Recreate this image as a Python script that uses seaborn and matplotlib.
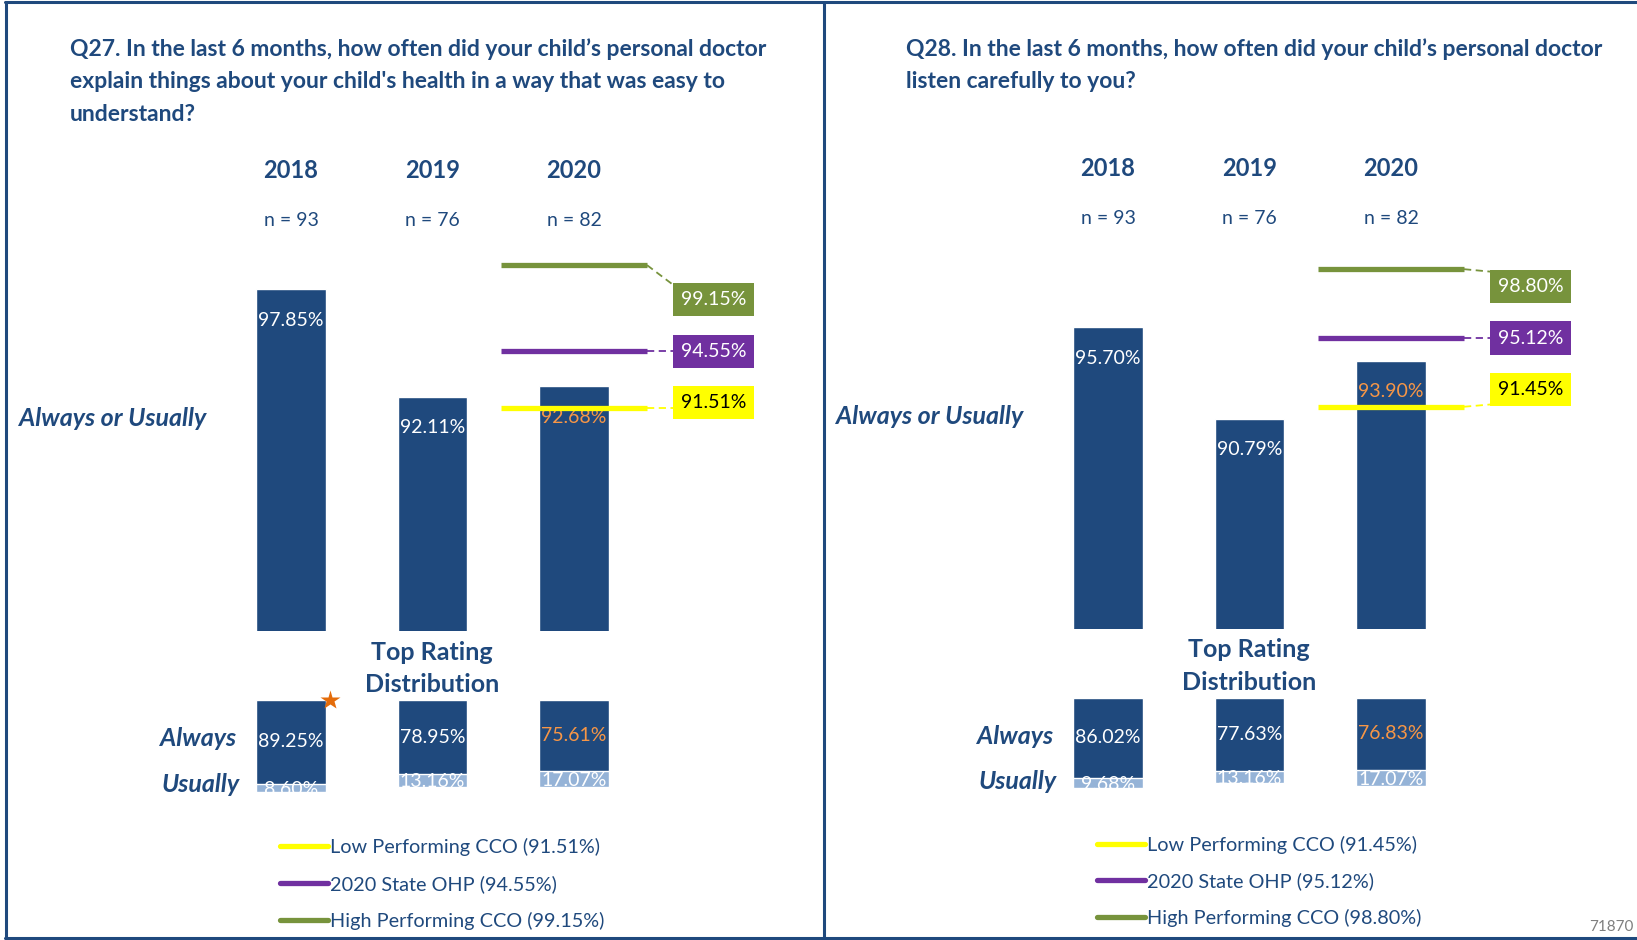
import matplotlib
matplotlib.use("Agg")
import matplotlib.pyplot as plt
import matplotlib.transforms as mtransforms
from matplotlib.lines import Line2D
from matplotlib.patches import Rectangle
import seaborn as sns

sns.set_style("white")
plt.rcParams['font.family'] = ['Lato', 'DejaVu Sans']

# data
years = ['2018', '2019', '2020']
n_sizes = [93, 76, 82]

q27_title = ["Q27. In the last 6 months, how often did your child\u2019s personal doctor",
             "explain things about your child's health in a way that was easy to",
             "understand?"]
q27_always_usually = [97.85, 92.11, 92.68]
q27_always = [89.25, 78.95, 75.61]
q27_usually = [8.60, 13.16, 17.07]
q27_low, q27_state, q27_high = 91.51, 94.55, 99.15

q28_title = ["Q28. In the last 6 months, how often did your child\u2019s personal doctor",
             "listen carefully to you?"]
q28_always_usually = [95.70, 90.79, 93.90]
q28_always = [86.02, 77.63, 76.83]
q28_usually = [9.68, 13.16, 17.07]
q28_low, q28_state, q28_high = 91.45, 95.12, 98.80

DARK = '#1F497D'
LIGHT = '#95B3D7'
ORANGE = '#F79646'
YELLOW = '#FFFF00'
PURPLE = '#7030A0'
GREEN = '#77933C'
label_colors = ['white', 'white', ORANGE]

W, H = 1637, 940
fig = plt.figure(figsize=(W / 100, H / 100), dpi=100)


def px_axes(left, top, right, bottom):
    return fig.add_axes([left / W, 1 - bottom / H, (right - left) / W, (bottom - top) / H])


def fx(x):
    return x / W


def fy(y):
    return 1 - y / H


def draw_panel(dx, dy, title_x, title, au, al, us, low, state, high, star=False):
    unit = 141.5
    x0 = 291 + dx

    # title
    for k, line in enumerate(title):
        fig.text(fx(title_x), fy(49 + 32.8 * k), line, ha='left', va='center',
                 fontsize=16.5, fontweight='bold', color=DARK)

    # main bars
    ax = px_axes(x0 - 0.7 * unit, 238 + dy, x0 + 3.4 * unit, 631 + dy)
    sns.barplot(x=years, y=au, ax=ax, color=DARK, saturation=1, width=0.49)
    ax.set_xlim(-0.7, 3.4)
    ax.set_ylim(79.6, 100.6)
    ax.axis('off')
    for i, v in enumerate(au):
        ax.text(i, v - 1.65, f'{v:.2f}%', ha='center', va='center',
                color=label_colors[i], fontsize=14)

    tr = mtransforms.blended_transform_factory(ax.transData, fig.transFigure)
    for i, (yr, n) in enumerate(zip(years, n_sizes)):
        ax.text(i, fy(171 + dy), yr, transform=tr, ha='center', va='center',
                fontsize=17, fontweight='bold', color=DARK)
        ax.text(i, fy(221 + dy), f'n = {n}', transform=tr, ha='center', va='center',
                fontsize=14, color=DARK)

    # benchmark lines with labelled boxes
    box_h = 1.78
    refs = [(high, GREEN, 'white', state + 2.75),
            (state, PURPLE, 'white', state),
            (low, YELLOW, 'black', state - 2.75)]
    for val, c, tc, by in refs:
        ax.plot([1.484, 2.516], [val, val], color=c, lw=3.8, solid_capstyle='butt', zorder=4)
        end_y = min(max(val, by - 0.45 * box_h), by + 0.45 * box_h)
        ax.plot([2.516, 2.70], [val, end_y], color=c, lw=1.3, ls=(0, (4, 2.5)), zorder=4)
        ax.add_patch(Rectangle((2.70, by - box_h / 2), 0.57, box_h, facecolor=c,
                               edgecolor='none', zorder=3))
        ax.text(2.985, by, f'{val:.2f}%', ha='center', va='center', color=tc,
                fontsize=14, zorder=5)

    fig.text(fx(19 + dx), fy(419 + dy), 'Always or Usually', ha='left', va='center',
             fontsize=18, fontweight='bold', fontstyle='italic', color=DARK)
    fig.text(fx(432 + dx), fy(652 + dy), 'Top Rating', ha='center', va='center',
             fontsize=18, fontweight='bold', color=DARK)
    fig.text(fx(432 + dx), fy(685 + dy), 'Distribution', ha='center', va='center',
             fontsize=18, fontweight='bold', color=DARK)

    # top rating distribution (stacked, hanging from the top)
    bx = px_axes(x0 - 0.7 * unit, 700 + dy, x0 + 3.4 * unit, 792 + dy)
    totals = [a + u for a, u in zip(al, us)]
    sns.barplot(x=years, y=totals, ax=bx, color=LIGHT, saturation=1, width=0.49)
    sns.barplot(x=years, y=al, ax=bx, color=DARK, saturation=1, width=0.49)
    bx.set_xlim(-0.7, 3.4)
    bx.set_ylim(97.8, 0)
    bx.axis('off')
    for i, (a, u) in enumerate(zip(al, us)):
        bx.text(i, a / 2, f'{a:.2f}%', ha='center', va='center',
                color=label_colors[i], fontsize=14)
        bx.text(i, a + u / 2 + 1.5, f'{u:.2f}%', ha='center', va='center',
                color='white', fontsize=14, clip_on=True)
    if star:
        bx.plot(0.276, 0, marker='*', ms=15, color='#E46C0A', mec='none', clip_on=False)

    fig.text(fx(236 + dx), fy(739 + dy), 'Always', ha='right', va='center',
             fontsize=18, fontweight='bold', fontstyle='italic', color=DARK)
    fig.text(fx(240 + dx), fy(784 + dy), 'Usually', ha='right', va='center',
             fontsize=18, fontweight='bold', fontstyle='italic', color=DARK)

    handles = [Line2D([], [], color=c, lw=3.8) for c in (YELLOW, PURPLE, GREEN)]
    labels = [f'Low Performing CCO ({low:.2f}%)',
              f'2020 State OHP ({state:.2f}%)',
              f'High Performing CCO ({high:.2f}%)']
    fig.legend(handles, labels, loc='upper left',
               bbox_to_anchor=(fx(280 + dx), fy(838 + dy)), frameon=False,
               handlelength=2.4, handletextpad=0.12, labelspacing=0.95,
               fontsize=14.3, borderpad=0, borderaxespad=0, labelcolor=DARK)


draw_panel(0, 0, 70, q27_title, q27_always_usually, q27_always, q27_usually,
           q27_low, q27_state, q27_high, star=True)
draw_panel(817, -2.5, 906, q28_title, q28_always_usually, q28_always, q28_usually,
           q28_low, q28_state, q28_high)

# frame
for xs, ys in [((5, W), (1.5, 1.5)), ((6, 6), (1.5, 938)),
               ((823.5, 823.5), (1.5, 938)), ((5, W), (938, 938))]:
    fig.add_artist(Line2D([fx(x) for x in xs], [fy(y) for y in ys],
                          transform=fig.transFigure, color=DARK, lw=2.2))

fig.text(fx(1634), fy(927), '71870', ha='right', va='center', color='#7F7F7F', fontsize=11)

fig.savefig('out.png', dpi=100)
